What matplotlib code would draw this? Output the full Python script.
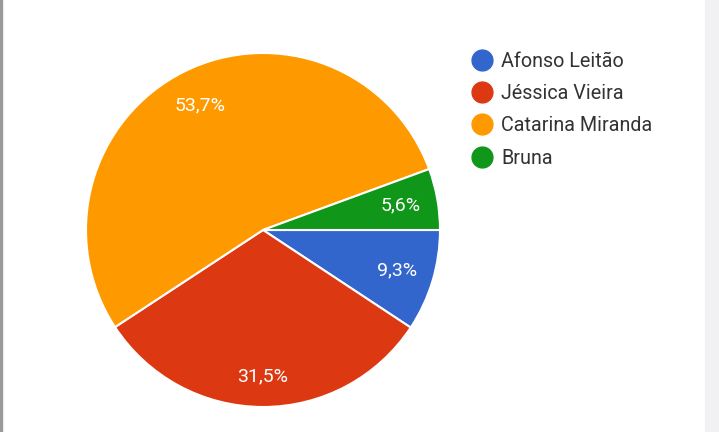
import matplotlib.pyplot as plt
from matplotlib.lines import Line2D
from matplotlib.patches import Rectangle

names = ['Afonso Leitão', 'Jéssica Vieira', 'Catarina Miranda', 'Bruna']
shares = [9.3, 31.5, 53.7, 5.6]
colors = ['#3366cc', '#dc3912', '#ff9900', '#109618']

plt.rcParams['font.family'] = ['Roboto', 'DejaVu Sans']

fig = plt.figure(figsize=(7.19, 4.32), dpi=100)
W, H = 719, 432

# frame edges from the screenshot
fig.patches.append(Rectangle((705 / W, 0), 14 / W, 1, transform=fig.transFigure,
                             color='#f1f1f3', zorder=0))
fig.patches.append(Rectangle((0, 0), 2 / W, 1, transform=fig.transFigure,
                             color='#9a9a9a', zorder=0))

cx, cy, r = 263, 230, 177
ax = fig.add_axes([(cx - r) / W, (H - cy - r) / H, 2 * r / W, 2 * r / H])
wedges, texts, autotexts = ax.pie(
    shares, colors=colors, startangle=0, counterclock=False,
    autopct='%1.1f%%', pctdistance=0.79,
    wedgeprops=dict(edgecolor='white', linewidth=1.5),
    textprops=dict(color='white', fontsize=14))
# show the given shares with a decimal comma
for t, s in zip(autotexts, shares):
    t.set_text(f'{s:.1f}%'.replace('.', ','))
# the big red slice label sits a bit further out
x, y = autotexts[1].get_position()
autotexts[1].set_position((x * 1.05, y * 1.05))
ax.set_aspect('equal')
ax.set_xlim(-1, 1)
ax.set_ylim(-1, 1)

handles = [Line2D([], [], marker='o', linestyle='', markersize=15,
                  markerfacecolor=c, markeredgecolor=c) for c in colors]
leg = fig.legend(handles, names, loc='upper left',
                 bbox_to_anchor=(460 / W, 1 - 42 / H), frameon=False,
                 fontsize=14.2, labelspacing=0.67, handletextpad=0.4,
                 handlelength=1.2, borderpad=0)
for t in leg.get_texts():
    t.set_color('#333333')

fig.savefig('out.png', dpi=100)
